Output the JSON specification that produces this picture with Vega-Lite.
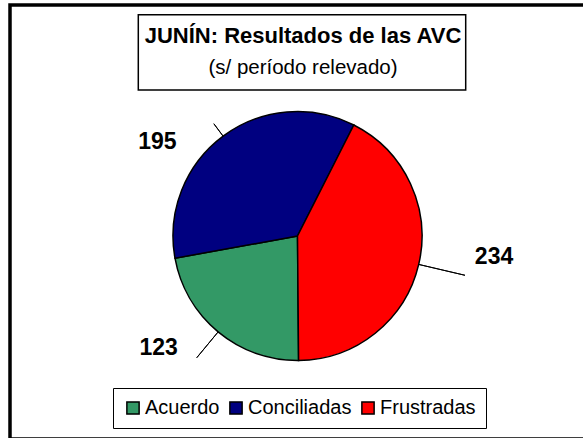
{
  "$schema": "https://vega.github.io/schema/vega-lite/v6.json",
  "width": 575,
  "height": 434,
  "autosize": {"type": "none"},
  "padding": {"left": 10, "top": 5, "right": 0, "bottom": 0},
  "background": "white",
  "config": {
    "view": {"stroke": "black", "strokeWidth": 3.5, "fill": "#c0c0c0"},
    "font": "Liberation Sans"
  },
  "title": {
    "text": "JUNÍN: Resultados de las AVC",
    "subtitle": "(s/ período relevado)",
    "anchor": "middle",
    "frame": "group",
    "offset": -67,
    "dx": 5.5,
    "dy": 7,
    "font": "Liberation Sans",
    "fontSize": 22,
    "fontWeight": "bold",
    "color": "black",
    "subtitleFont": "Liberation Sans",
    "subtitleFontSize": 20.5,
    "subtitleColor": "black",
    "subtitlePadding": 10
  },
  "data": {
    "values": [
      {"category": "Acuerdo", "value": 123},
      {"category": "Conciliadas", "value": 195},
      {"category": "Frustradas", "value": 234}
    ]
  },
  "layer": [
    {
      "data": {"values": [{"box": "title"}]},
      "mark": {"type": "rect", "fill": "white", "stroke": "black", "strokeWidth": 1.5},
      "encoding": {
        "x": {"value": 128.3},
        "x2": {"value": 455.7},
        "y": {"value": 9.7},
        "y2": {"value": 85}
      }
    },
    {
      "mark": {"type": "arc", "radius": 124.5, "stroke": "black", "strokeWidth": 1.5, "yOffset": 14},
      "encoding": {
        "theta": {"field": "value", "type": "quantitative", "stack": true, "scale": {"range": [3.1329, 9.4161]}},
        "color": {
          "field": "category",
          "type": "nominal",
          "scale": {"domain": ["Acuerdo", "Conciliadas", "Frustradas"], "range": ["#339966", "#000080", "#ff0000"]},
          "legend": {
            "title": null,
            "orient": "none",
            "legendX": 103,
            "legendY": 383,
            "direction": "horizontal",
            "fillColor": "white",
            "strokeColor": "black",
            "padding": 10,
            "labelFont": "Liberation Sans",
            "labelFontSize": 20,
            "labelColor": "black",
            "labelOffset": 2,
            "columnPadding": 6,
            "symbolType": "square",
            "symbolSize": 150,
            "symbolStrokeColor": "black",
            "symbolStrokeWidth": 1.5,
            "symbolOpacity": 1
          }
        }
      }
    },
    {
      "mark": {"type": "arc", "radius": 172, "radius2": 124.5, "padAngle": 3, "fillOpacity": 0, "stroke": "black", "strokeWidth": 1, "yOffset": 14},
      "encoding": {
        "theta": {"field": "value", "type": "quantitative", "stack": true, "scale": {"range": [3.1329, 9.4161]}},
        "detail": {"field": "category"},
        "strokeOpacity": {"condition": {"test": "datum.category === 'Frustradas'", "value": 1}, "value": 0}
      }
    },
    {
      "mark": {"type": "arc", "radius": 158, "radius2": 124.5, "padAngle": 3, "fillOpacity": 0, "stroke": "black", "strokeWidth": 1, "yOffset": 14},
      "encoding": {
        "theta": {"field": "value", "type": "quantitative", "stack": true, "scale": {"range": [3.1329, 9.4161]}},
        "detail": {"field": "category"},
        "strokeOpacity": {"condition": {"test": "datum.category === 'Acuerdo'", "value": 1}, "value": 0}
      }
    },
    {
      "mark": {"type": "arc", "radius": 140, "radius2": 124.5, "padAngle": 3, "fillOpacity": 0, "stroke": "black", "strokeWidth": 1, "yOffset": 14},
      "encoding": {
        "theta": {"field": "value", "type": "quantitative", "stack": true, "scale": {"range": [3.1329, 9.4161]}},
        "detail": {"field": "category"},
        "strokeOpacity": {"condition": {"test": "datum.category === 'Conciliadas'", "value": 1}, "value": 0}
      }
    },
    {
      "mark": {"type": "text", "radius": 196, "dx": 5.7, "dy": -10.1, "font": "Liberation Sans", "fontSize": 23, "fontWeight": "bold", "fill": "black", "align": "center", "baseline": "middle"},
      "encoding": {
        "theta": {"field": "value", "type": "quantitative", "stack": true, "scale": {"range": [3.1329, 9.4161]}},
        "detail": {"field": "category"},
        "text": {"condition": {"test": "datum.category === 'Frustradas'", "field": "value", "type": "quantitative"}, "value": ""}
      }
    },
    {
      "mark": {"type": "text", "radius": 175, "dx": -27.3, "dy": -8.5, "font": "Liberation Sans", "fontSize": 23, "fontWeight": "bold", "fill": "black", "align": "center", "baseline": "middle"},
      "encoding": {
        "theta": {"field": "value", "type": "quantitative", "stack": true, "scale": {"range": [3.1329, 9.4161]}},
        "detail": {"field": "category"},
        "text": {"condition": {"test": "datum.category === 'Acuerdo'", "field": "value", "type": "quantitative"}, "value": ""}
      }
    },
    {
      "mark": {"type": "text", "radius": 160, "dx": -44.5, "dy": 48, "font": "Liberation Sans", "fontSize": 23, "fontWeight": "bold", "fill": "black", "align": "center", "baseline": "middle"},
      "encoding": {
        "theta": {"field": "value", "type": "quantitative", "stack": true, "scale": {"range": [3.1329, 9.4161]}},
        "detail": {"field": "category"},
        "text": {"condition": {"test": "datum.category === 'Conciliadas'", "field": "value", "type": "quantitative"}, "value": ""}
      }
    }
  ]
}
